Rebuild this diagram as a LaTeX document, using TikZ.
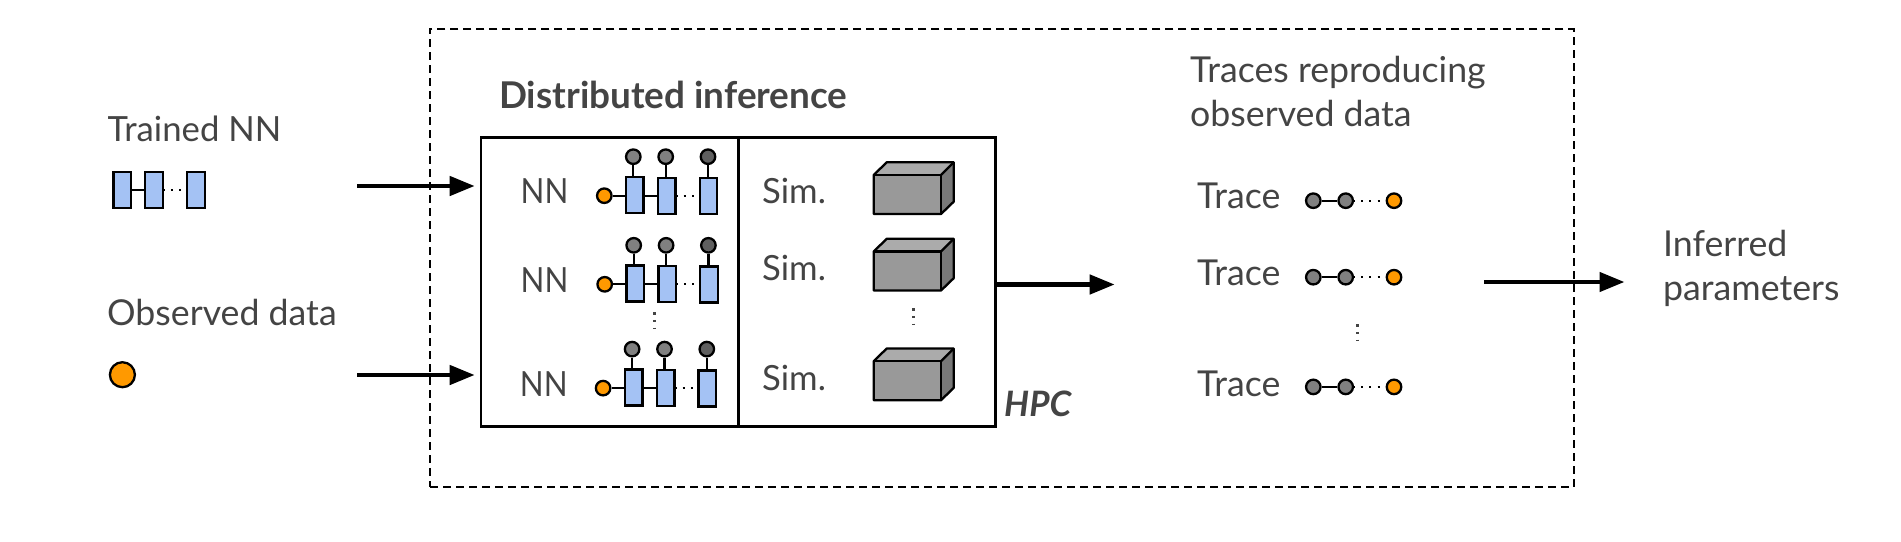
\documentclass[tikz,border=0pt]{standalone}
\usepackage{fontspec}
\setmainfont{Lato}
\newfontfamily\nnfont[FakeStretch=0.9]{Lato}
\usetikzlibrary{arrows.meta}
\definecolor{txt}{HTML}{444444}
\definecolor{nnblue}{HTML}{A4C2F4}
\definecolor{obsorange}{HTML}{FF9900}
\definecolor{latgray}{HTML}{808080}
\definecolor{latdark}{HTML}{606060}
\tikzset{
  lbl/.style={anchor=base west,inner sep=0pt,text=txt,font=\fontsize{34.7}{38}\selectfont},
  lbllong/.style={lbl,font=\fontsize{35.7}{38}\selectfont},
  nnlbl/.style={lbl,font=\fontsize{34.7}{38}\selectfont\nnfont},
  boldlbl/.style={lbl,font=\fontsize{36.9}{38}\selectfont\bfseries},
  hpclbl/.style={lbl,font=\fontsize{35}{38}\selectfont\bfseries\itshape},
  nnrect/.style={draw=black,fill=nnblue,line width=2.3pt,minimum width=17.5pt,minimum height=36pt,inner sep=0pt},
  obs/.style={circle,draw=black,fill=obsorange,line width=2.3pt,minimum size=14.5pt,inner sep=0pt},
  lat/.style={circle,draw=black,fill=latgray,line width=2.3pt,minimum size=14.5pt,inner sep=0pt},
  latd/.style={lat,fill=latdark},
  link/.style={draw=black,line width=2.3pt},
  dotlink/.style={draw=black,line width=2pt,dash pattern=on 2pt off 6.3pt,dash phase=1.3pt},
  vdots/.style={draw=txt,line width=3pt,dash pattern=on 2.6pt off 5.2pt},
  bigarrow/.style={draw=black,line width=4.5pt,-{Triangle[length=25pt,width=19pt]}},
  frame/.style={draw=black,line width=2.5pt,inner sep=0pt},
  cubeline/.style={draw=black,line width=2.3pt,line join=round}
}
\newcommand{\nnrow}[3]{%
  \begin{scope}[shift={(#2,#3)}]
    \node[nnrect] (#1r1) at (634.8,195) {};
    \node[nnrect] (#1r2) at (666.8,195.7) {};
    \node[nnrect] (#1r3) at (708.5,196) {};
    \node[obs] (#1o) at (604.3,195.7) {};
    \node[lat] (#1c1) at (633.3,156.7) {};
    \node[lat] (#1c2) at (665.7,156.7) {};
    \node[latd] (#1c3) at (708,156.7) {};
    \draw[link] (#1o) -- (#1r1.west |- #1o);
    \draw[link] (#1r1.east |- #1o) -- (#1r2.west |- #1o);
    \draw[dotlink] (#1r2.east |- #1o) -- (#1r3.west |- #1o);
    \draw[link] (#1c1) -- (#1c1 |- #1r1.north);
    \draw[link] (#1c2) -- (#1c2 |- #1r2.north);
    \draw[link] (#1c3) -- (#1c3 |- #1r3.north);
  \end{scope}}
\newcommand{\simcube}[1]{%
  \begin{scope}[shift={(0,#1)}]
    \path[fill=white!67!black] (873.7,175) -- (886.7,162.3) -- (953.7,162.3) -- (941,175) -- cycle;
    \path[fill=white!47!black] (941,175) -- (953.7,162.3) -- (953.7,201.7) -- (941,214) -- cycle;
    \path[fill=white!60!black] (873.7,175) rectangle (941,214);
    \draw[cubeline] (873.7,175) -- (886.7,162.3) -- (953.7,162.3) -- (953.7,201.7) -- (941,214) -- (873.7,214) -- cycle;
    \draw[cubeline] (873.7,175) -- (941,175) -- (941,214);
    \draw[cubeline] (941,175) -- (953.7,162.3);
  \end{scope}}
\newcommand{\tracerow}[2]{%
  \node[lat] (#1a) at (1313.3,#2) {};
  \node[lat] (#1b) at (1345.7,#2) {};
  \node[obs] (#1c) at (1394,#2) {};
  \draw[link] (#1a) -- (#1b);
  \draw[dotlink] (#1b) -- (#1c);}
\begin{document}
\begin{tikzpicture}[x=1pt,y=-1pt]
\useasboundingbox (0,0) rectangle (1901,541);
% dashed frame
\node[draw=black,line width=2pt,dash pattern=on 8pt off 5pt,inner sep=0pt,minimum width=1143.5pt,minimum height=458.4pt] (outer) at (1001.75,257.8) {};
% HPC box
\node[frame,minimum width=514.5pt,minimum height=289pt] (hpc) at (738.25,282.1) {};
\coordinate (divtop) at (738.4,137.6);
\coordinate (divbot) at (738.4,426.6);
\draw[line width=2.5pt] (divtop) -- (divbot);
% left column
\node[lbl] (ttrained) at (107.5,141) {Trained NN};
\node[nnrect] (i1) at (122.2,189.7) {};
\node[nnrect] (i2) at (154,189.7) {};
\node[nnrect] (i3) at (196,189.7) {};
\draw[link] (i1) -- (i2);
\draw[dotlink] (i2) -- (i3);
\node[lbllong] (tobs) at (107,325.5) {Observed data};
\node[obs,minimum size=25pt] (iobs) at (122.4,374.7) {};
% titles
\node[boldlbl] (tdist) at (499,108.6) {Distributed inference};
\node[hpclbl] (thpc) at (1004,416.5) {HPC};
% NN rows
\node[nnlbl] (nn1) at (520.5,203.4) {NN};
\node[nnlbl] (nn2) at (520.5,292.4) {NN};
\node[nnlbl] (nn3) at (519.7,396.5) {NN};
\nnrow{ra}{0}{0}
\nnrow{rb}{0.4}{88.6}
\nnrow{rc}{-1.2}{192.4}
\coordinate (vd1a) at (654,312);
\coordinate (vd1b) at (654,329);
\draw[vdots] (vd1a) -- (vd1b);
% Sim rows
\node[lbl] (s1) at (762,203.4) {Sim.};
\node[lbl] (s2) at (762,280) {Sim.};
\node[lbl] (s3) at (762,390) {Sim.};
\simcube{0}
\simcube{76.5}
\simcube{186.2}
\coordinate (vd2a) at (913,308);
\coordinate (vd2b) at (913,325);
\draw[vdots] (vd2a) -- (vd2b);
% traces
\node[lbllong] (ttr1) at (1190,82.8) {Traces reproducing};
\node[lbllong] (ttr2) at (1190,126.5) {observed data};
\node[lbllong] (t1) at (1197,208.6) {Trace};
\node[lbllong] (t2) at (1197,285.5) {Trace};
\node[lbllong] (t3) at (1197,396) {Trace};
\tracerow{ta}{200.7}
\tracerow{tb}{277.2}
\tracerow{tc}{386.9}
\coordinate (vd3a) at (1357,324);
\coordinate (vd3b) at (1357,341);
\draw[vdots] (vd3a) -- (vd3b);
% output
\node[lbllong] (inf1) at (1663,256) {Inferred};
\node[lbllong] (inf2) at (1663,300.7) {parameters};
% arrows
\coordinate (a1s) at (357,186);
\coordinate (a1e) at (474.7,186);
\coordinate (a2s) at (357,375);
\coordinate (a2e) at (474.7,375);
\coordinate (a3s) at (997,284.5);
\coordinate (a3e) at (1114.7,284.5);
\coordinate (a4s) at (1484,282);
\coordinate (a4e) at (1624.5,282);
\draw[bigarrow] (a1s) -- (a1e);
\draw[bigarrow] (a2s) -- (a2e);
\draw[bigarrow] (a3s) -- (a3e);
\draw[bigarrow] (a4s) -- (a4e);
\end{tikzpicture}
\end{document}
